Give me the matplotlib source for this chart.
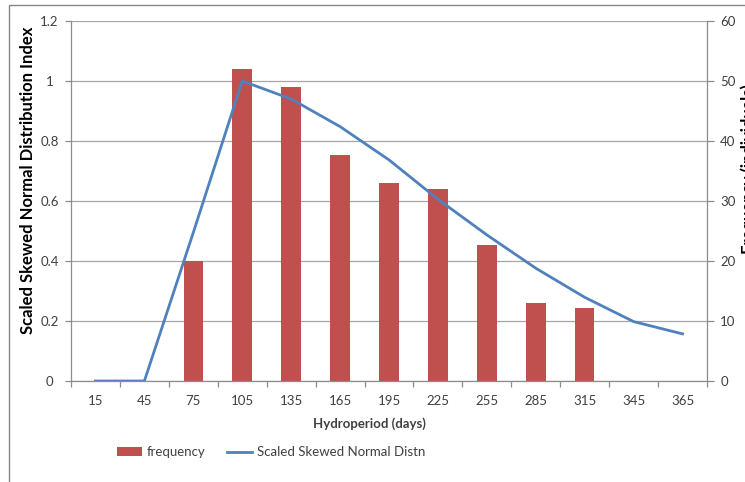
import matplotlib
matplotlib.use("Agg")
import matplotlib.pyplot as plt
from matplotlib.patches import Rectangle
import numpy as np

plt.rcParams['font.family'] = ['Lato', 'DejaVu Sans']

categories = ["15", "45", "75", "105", "135", "165", "195", "225", "255", "285", "315", "345", "365"]
frequency = [0, 0, 20, 52, 49, 37.7, 33, 32, 22.7, 13, 12.2, 0, 0]
scaled_distn = [0, 0, 0.495, 1.0, 0.94, 0.848, 0.737, 0.606, 0.487, 0.376, 0.279, 0.198, 0.157]
left_ticks = [0, 0.2, 0.4, 0.6, 0.8, 1, 1.2]
left_tick_labels = ["0", "0.2", "0.4", "0.6", "0.8", "1", "1.2"]
right_ticks = [0, 10, 20, 30, 40, 50, 60]

BAR = "#C0504D"
LINE = "#4F81BD"
GRID = "#A6A6A6"
AXC = "#8C8C8C"
TXT = "#404040"

fig = plt.figure(figsize=(7.45, 4.82), dpi=100)
ax = fig.add_axes([71/745, 1-381/482, (707-71)/745, (381-21)/482])
ax2 = ax.twinx()

x = np.arange(len(categories))

# bars + gridlines on secondary axis (drawn below)
ax2.bar(x, frequency, width=0.4, color=BAR, zorder=2, label="frequency")
ax2.set_ylim(0, 60)
ax2.set_yticks(right_ticks)
ax2.yaxis.grid(True, color=GRID, linewidth=0.9, zorder=0)
ax2.set_axisbelow(True)

# line on primary axis (drawn on top)
ax.set_zorder(ax2.get_zorder() + 1)
ax.patch.set_visible(False)
ax.plot(x, scaled_distn, color=LINE, linewidth=2.0, solid_joinstyle='round', label="Scaled Skewed Normal Distn")
ax.set_ylim(0, 1.2)
ax.set_yticks(left_ticks)
ax.set_yticklabels(left_tick_labels)
ax.set_xlim(-0.5, len(categories) - 0.5)
ax.set_xticks(x)
ax.set_xticklabels(categories)
ax.set_xticks(np.arange(-0.5, len(categories)), minor=True)
ax.tick_params(axis='x', which='major', length=0, pad=10, labelsize=9.5, colors=TXT)
ax.tick_params(axis='x', which='minor', length=4, width=0.9, color=AXC, direction='out')
ax.tick_params(axis='y', length=4, width=0.9, color=AXC, pad=11.5, labelsize=9.5, labelcolor=TXT)
for lbl in ax.get_yticklabels():
    lbl.set_horizontalalignment('center')
ax2.tick_params(axis='y', length=5, width=0.9, color=AXC, pad=4.5, labelsize=9.5, labelcolor=TXT)

for a in (ax, ax2):
    for s in a.spines.values():
        s.set_visible(False)
ax.spines['left'].set_visible(True)
ax.spines['bottom'].set_visible(True)
ax2.spines['right'].set_visible(True)
for s in (ax.spines['left'], ax.spines['bottom'], ax2.spines['right']):
    s.set_color(AXC)
    s.set_linewidth(0.9)

ax.set_xlabel("Hydroperiod (days)", fontsize=9.5, fontweight='bold', color=TXT)
ax.xaxis.set_label_coords((369-71)/636, -(417-381)/360)
ax.set_ylabel("Scaled Skewed Normal Distribution Index", fontsize=12, fontweight='bold', color="black")
ax.yaxis.set_label_coords((36-71)/636, (381-180)/360)
ax2.set_ylabel("Frequency (individuals)", fontsize=12, fontweight='bold', color="black", rotation=90)
ax2.yaxis.set_label_coords((740-71)/636, (381-169)/360)

h1, l1 = ax2.get_legend_handles_labels()
h2, l2 = ax.get_legend_handles_labels()
fig.legend(h1 + h2, l1 + l2, loc='center', bbox_to_anchor=(271/745, 1-452/482), ncol=2,
           frameon=False, fontsize=9.5, handlelength=1.9, handletextpad=0.4, columnspacing=1.6,
           labelcolor=TXT, handleheight=0.6)

# outer chart border
fig.patches.append(Rectangle((8.5/745, -0.1), 1.0, (482-5)/482 + 0.1, transform=fig.transFigure,
                             fill=False, edgecolor="#868686", linewidth=1.0, zorder=0))

fig.savefig("out.png", dpi=100)
